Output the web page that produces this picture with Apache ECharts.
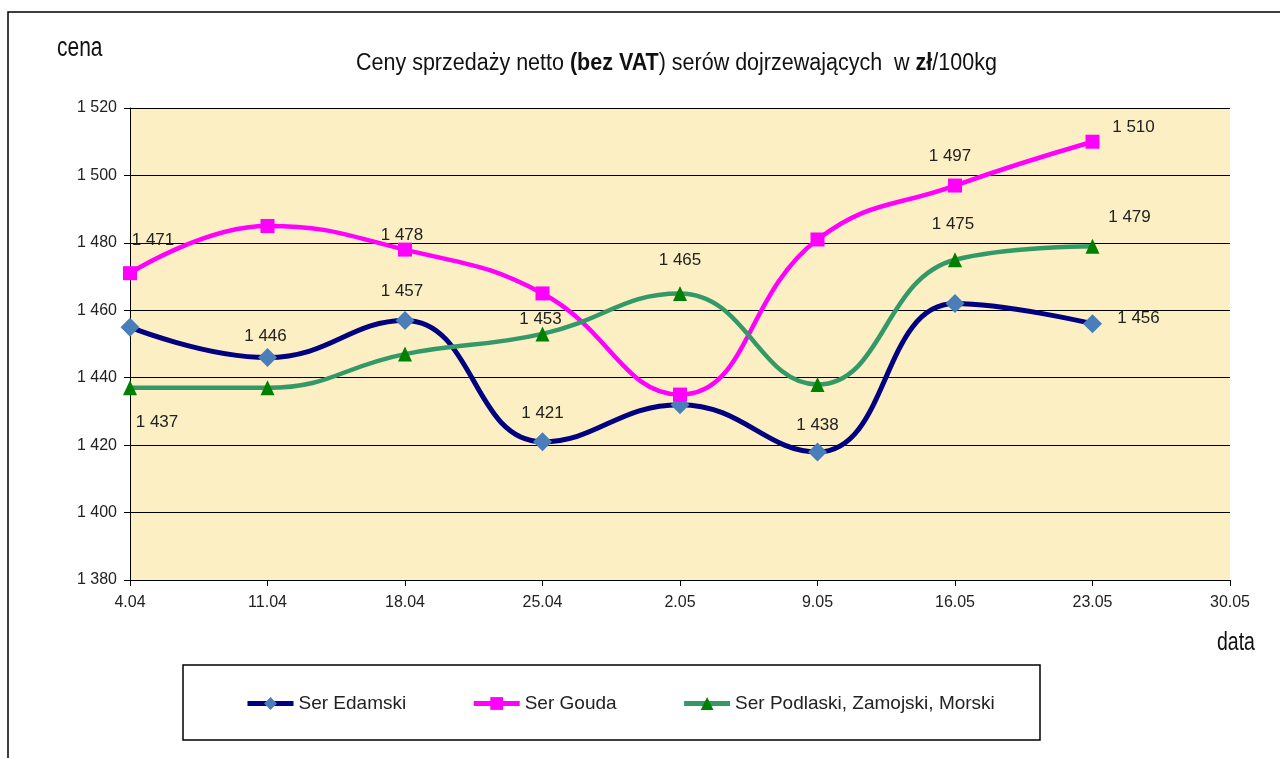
<!DOCTYPE html>
<html>
<head>
<meta charset="utf-8">
<script src="https://cdn.jsdelivr.net/npm/echarts@6/dist/echarts.min.js"></script>
<style>
html,body{margin:0;padding:0;background:#fff;}
#chart{width:1280px;height:758px;}
</style>
</head>
<body>
<div id="chart"></div>
<script>
const categories = ['4.04','11.04','18.04','25.04','2.05','9.05','16.05','23.05','30.05'];
const seriesNames = ['Ser Edamski','Ser Gouda','Ser Podlaski, Zamojski, Morski'];
const edamski  = [1455, 1446, 1457, 1421, 1432, 1418, 1462, 1456];
const gouda    = [1471, 1485, 1478, 1465, 1435, 1481, 1497, 1510];
const podlaski = [1437, 1437, 1447, 1453, 1465, 1438, 1475, 1479];
const yMin = 1380, yMax = 1520, yStep = 20;

const FONT = '"Liberation Sans", Arial, sans-serif';
const fmt = v => String(v).replace(/\B(?=(\d{3})+(?!\d))/g, ' ');

// label placement (offsets from point centre) per series index -> data index
const labelOffsets = [
  {1: [-2,-21], 2: [-3,-29], 3: [0,-28], 7: [46,-5]},
  {0: [23,-33], 2: [-3,-14], 6: [-5,-29], 7: [41,-14]},
  {0: [27,34], 3: [-2,-15], 4: [0,-33], 5: [0,41], 6: [-2,-35], 7: [37,-29]}
];

function buildData(values, si) {
  return values.map((v, i) => {
    const off = labelOffsets[si][i];
    return off ? {value: v, label: {show: true, position: 'inside', offset: off}} : {value: v};
  });
}

const styles = [
  {line: '#000080', marker: '#4A7EBB', symbol: 'diamond', size: 19, width: 5},
  {line: '#FF00FF', marker: '#FF00FF', symbol: 'rect', size: 14, width: 4.5},
  {line: '#339966', marker: '#008000', symbol: 'triangle', size: [14, 15], width: 4.5}
];
const allValues = [edamski, gouda, podlaski];

const series = allValues.map((vals, si) => ({
  name: seriesNames[si],
  type: 'line',
  data: buildData(vals, si),
  smooth: 0.45,
  symbol: styles[si].symbol,
  symbolSize: styles[si].size,
  lineStyle: {color: styles[si].line, width: styles[si].width},
  itemStyle: {color: styles[si].marker, borderWidth: 0},
  label: {show: false, formatter: p => fmt(p.value), color: '#222', fontFamily: FONT, fontSize: 17},
  emphasis: {disabled: true},
  z: 3 + si
}));

const chart = echarts.init(document.getElementById('chart'), null, {renderer: 'canvas'});
chart.setOption({
  animation: false,
  backgroundColor: '#fff',
  grid: {left: 130, right: 50, top: 108, bottom: 178, show: true, backgroundColor: '#FCEFC4', borderWidth: 0},
  xAxis: {
    type: 'category',
    data: categories,
    boundaryGap: false,
    axisLine: {lineStyle: {color: '#000', width: 1}},
    axisTick: {show: true, length: 6, lineStyle: {color: '#000'}},
    axisLabel: {color: '#222', fontFamily: FONT, fontSize: 16, margin: 15},
    splitLine: {show: false}
  },
  yAxis: {
    type: 'value',
    min: yMin, max: yMax, interval: yStep,
    axisLine: {show: true, lineStyle: {color: '#000', width: 1}},
    axisTick: {show: true, length: 6, lineStyle: {color: '#000'}},
    axisLabel: {color: '#222', fontFamily: FONT, fontSize: 16, margin: 13, formatter: v => fmt(v)},
    splitLine: {show: true, lineStyle: {color: '#000', width: 1}}
  },
  legend: {
    data: seriesNames,
    left: 245, top: 694, padding: 0,
    itemWidth: 46, itemHeight: 16, itemGap: 65,
    lineStyle: {width: 5},
    textStyle: {color: '#222', fontFamily: FONT, fontSize: 19},
    selectedMode: false
  },
  graphic: [
    {type: 'rect', shape: {x: 8, y: 12, width: 1300, height: 800}, style: {fill: 'none', stroke: '#000', lineWidth: 1.5}, silent: true, z: 0},
    {type: 'rect', shape: {x: 183, y: 665, width: 857, height: 75}, style: {fill: 'none', stroke: '#000', lineWidth: 1.5}, silent: true, z: 0},
    {type: 'text', x: 356, y: 63.5, scaleY: 1.1, style: {
      x: 0, y: 0, textVerticalAlign: 'middle',
      rich: {n: {fontFamily: FONT, fontSize: 21.5, fill: '#111'}, b: {fontFamily: FONT, fontSize: 21.5, fontWeight: 'bold', fill: '#111'}},
      text: '{n|Ceny sprzedaży netto }{b|(bez VAT}{n|) serów dojrzewających  w }{b|zł}{n|/100kg}'
    }},
    {type: 'text', x: 57, y: 48.5, scaleY: 1.3, style: {x: 0, y: 0, textVerticalAlign: 'middle', text: 'cena', fontFamily: FONT, fontSize: 21, fill: '#111'}},
    {type: 'text', x: 1217, y: 643, scaleY: 1.3, style: {x: 0, y: 0, textVerticalAlign: 'middle', text: 'data', fontFamily: FONT, fontSize: 19.5, fill: '#111'}}
  ],
  series: series
});
</script>
</body>
</html>
